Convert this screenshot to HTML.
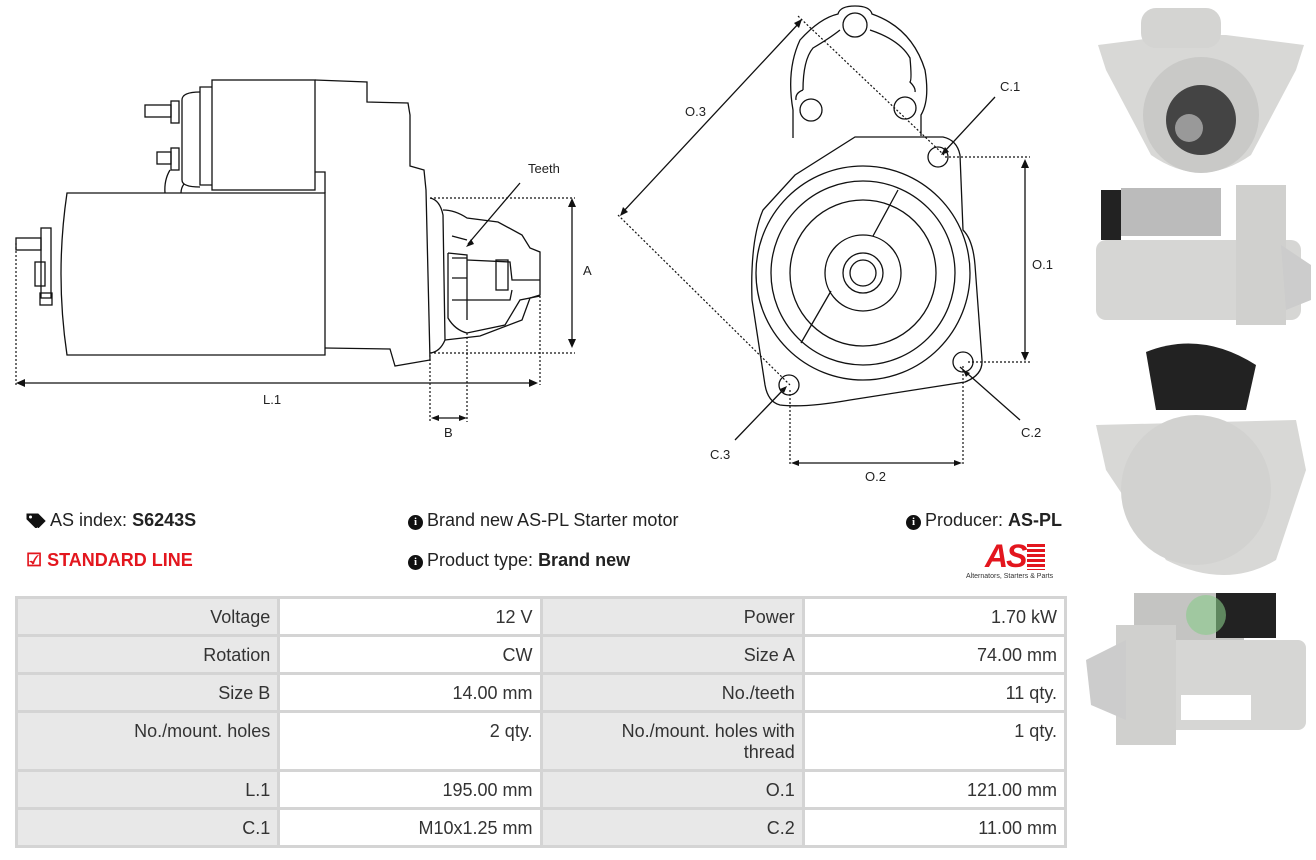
<!DOCTYPE html>
<html><head><meta charset="utf-8">
<style>
body{margin:0;width:1316px;height:860px;background:#fff;position:relative;overflow:hidden;font-family:"Liberation Sans",sans-serif;color:#222}
.t{position:absolute;font-size:18px;white-space:nowrap}
.i{display:inline-block;width:15px;height:15px;border-radius:50%;background:#111;color:#fff;font:bold 11px/15px "Liberation Serif",serif;text-align:center;vertical-align:1px;margin-right:4px}
table{position:absolute;left:15px;top:596px;width:1052px;table-layout:fixed;border-collapse:collapse;font-size:18px;color:#333}
td{border:3px solid #d4d4d4;text-align:right;vertical-align:top;padding:8px 7px 0 0;box-sizing:border-box;line-height:21px}
td.l{background:#e8e8e8}
</style></head><body>
<svg width="1316" height="590" style="position:absolute;left:0;top:0" fill="none" stroke="#111" stroke-width="1.3">
<path d="M67 193 L325 193 L325 355 L67 355 Q55 274 67 193Z"/>
<rect x="212" y="80" width="103" height="110"/>
<path d="M212 87 L200 87 L200 185 L212 185"/>
<path d="M200 92 Q182 92 182 100 L182 180 Q182 187 200 187"/>
<path d="M315 80 L367 82 L367 102 L408 103 L410 115 L410 166 L424 170 L426 190 L430 360 L395 366 L390 349 L325 348"/>
<path d="M315 172 L325 172 L325 193"/>
<path d="M170 170 Q164 180 165 193 M184 184 Q181 188 181 193"/>
<rect x="171" y="101" width="8" height="22"/><rect x="145" y="105" width="26" height="12"/>
<rect x="171" y="148" width="8" height="22"/><rect x="157" y="152" width="14" height="12"/>
<rect x="41" y="228" width="10" height="70"/><rect x="16" y="238" width="25" height="12"/>
<rect x="35" y="262" width="10" height="24"/><rect x="40" y="293" width="12" height="12"/>
<path d="M430 198 Q440 200 443 215 L445 340 Q440 352 430 353"/>
<path d="M443 210 Q455 210 467 218 L498 222 L522 235 L530 248 L540 252 L540 295 L530 298 L522 320 L480 336 L445 340"/>
<path d="M448 253 L448 318 Q455 330 467 333 L505 325 L520 300 L540 296 M448 253 L467 255 L467 320"/>
<path d="M467 260 L510 262 L512 280 L540 280 M467 300 L510 300 L512 290"/>
<rect x="496" y="260" width="12" height="30"/>
<path d="M452 236 L467 240 M452 258 L467 258 M452 278 L467 278 M452 300 L467 300"/>
<g stroke-dasharray="2 2" stroke-width="1.2">
<path d="M16 243 L16 385 M430 198 L575 198 M430 353 L575 353 M540 296 L540 385 M430 355 L430 422 M467 333 L467 422"/>
<path d="M790 390 L790 466 M963 366 L963 466 M945 157 L1030 157 M968 362 L1030 362"/>
<path d="M798 16 L944 155 M618 215 L790 385"/>
</g>
<path d="M20 383 L535 383 M572 200 L572 346 M434 418 L464 418 M1025 162 L1025 358 M794 463 L959 463 M622 213 L800 22"/>
<path d="M468 244 L520 183 M944 152 L995 97 M960 367 L1020 420 M783 390 L735 440"/>
<g fill="#111" stroke="none">
<path d="M16 383l9-4v8z M538 383l-9-4v8z M572 198l-4 9h8z M572 348l-4-9h8z M431 418l8-3v6z M467 418l-8-3v6z M1025 159l-4 9h8z M1025 361l-4-9h8z M791 463l8-3v6z M962 463l-8-3v6z M620 216l3-9 5 5z M802 19l-8 4 5 5z M466 247l8-3-3-5z M941 155l8-3-4-5z M963 370l3 7 4-4z M787 386l-7 3 4 4z"/>
</g>
<path d="M793 138 L793 110 Q786 70 800 40 Q820 18 838 14 Q840 6 855 6 Q870 6 872 14 Q912 28 925 70 Q930 100 921 115 L921 136"/>
<path d="M803 90 Q803 60 813 48 Q830 38 840 30 M870 30 Q900 40 910 58 Q912 80 910 82 Q916 88 915 92"/>
<path d="M803 90 Q795 93 796 100"/>
<path d="M855 137 L943 137 Q957 140 960 155 L963 230 Q973 240 975 265 L982 360 Q983 375 965 382 L850 400 Q805 408 780 405 Q768 402 765 385 L752 300 Q750 240 763 210 L795 175 Z"/>
<circle cx="863" cy="273" r="107"/><circle cx="863" cy="273" r="92"/><circle cx="863" cy="273" r="73"/>
<circle cx="863" cy="273" r="38"/><circle cx="863" cy="273" r="20"/><circle cx="863" cy="273" r="13"/>
<path d="M898 190 L873 236 M831 291 L801 343"/>
<circle cx="855" cy="25" r="12"/><circle cx="811" cy="110" r="11"/><circle cx="905" cy="108" r="11"/>
<circle cx="938" cy="157" r="10"/><circle cx="963" cy="362" r="10"/><circle cx="789" cy="385" r="10"/>
<g fill="#222" stroke="none" font-family="Liberation Sans" font-size="13">
<text x="528" y="173">Teeth</text><text x="583" y="275">A</text><text x="263" y="404">L.1</text><text x="444" y="437">B</text>
<text x="685" y="116">O.3</text><text x="1000" y="91">C.1</text><text x="1032" y="269">O.1</text><text x="1021" y="437">C.2</text><text x="710" y="459">C.3</text><text x="865" y="481">O.2</text>
</g>
</svg>
<svg width="230" height="780" style="position:absolute;left:1086px;top:0">
<path d="M12 45 L90 35 L140 35 L218 45 L210 70 L165 155 Q115 190 65 155 L20 70Z" fill="#d8d8d6"/>
<rect x="55" y="8" width="80" height="40" rx="15" fill="#d4d4d2"/>
<circle cx="115" cy="115" r="58" fill="#c9c9c7"/><circle cx="115" cy="120" r="35" fill="#444"/><circle cx="103" cy="128" r="14" fill="#999"/>
<rect x="15" y="190" width="20" height="50" fill="#222"/><rect x="35" y="188" width="100" height="48" fill="#bbb"/>
<rect x="10" y="240" width="205" height="80" rx="10" fill="#d6d6d4"/><rect x="150" y="185" width="50" height="140" fill="#d0d0ce"/><path d="M195 245 L225 265 L225 300 L200 310Z" fill="#ccc"/>
<path d="M60 352 Q115 330 170 365 L160 410 L70 410Z" fill="#222"/>
<path d="M10 425 L210 420 L220 470 L190 560 Q140 590 80 560 L20 470Z" fill="#d8d8d6"/>
<circle cx="110" cy="490" r="75" fill="#d2d2d0"/>
<rect x="48" y="593" width="110" height="50" fill="#c4c4c2"/><rect x="130" y="593" width="60" height="45" fill="#222"/>
<rect x="40" y="640" width="180" height="90" rx="8" fill="#d6d6d4"/><rect x="30" y="625" width="60" height="120" fill="#d0d0ce"/><path d="M0 660 L40 640 L40 720 L5 705Z" fill="#ccc"/>
<circle cx="120" cy="615" r="20" fill="#8c8" opacity=".6"/>
<rect x="95" y="695" width="70" height="25" fill="#fff"/>
</svg>
<div class="t" style="left:26px;top:510px"><svg width="20" height="16" style="vertical-align:-2px"><path d="M1 2 L8 2 L16 10 L10 16 L1 7Z M5 2 L12 2 L19 9 L12 16" fill="#111" stroke="#111"/><circle cx="4.5" cy="5" r="1.5" fill="#fff"/></svg> AS index: <b>S6243S</b></div>
<div class="t" style="left:26px;top:550px;color:#e3161e;font-weight:bold">&#9745; STANDARD LINE</div>
<div class="t" style="left:408px;top:510px"><span class="i">i</span>Brand new AS-PL Starter motor</div>
<div class="t" style="left:408px;top:550px"><span class="i">i</span>Product type: <b>Brand new</b></div>
<div class="t" style="left:906px;top:510px"><span class="i">i</span>Producer: <b>AS-PL</b></div>
<div style="position:absolute;left:985px;top:538px;color:#e3161e;font:italic bold 32px 'Liberation Sans',sans-serif;letter-spacing:-2px">AS<span style="display:inline-block;width:18px;height:26px;background:repeating-linear-gradient(#e3161e 0 3px,#fff 3px 5px);vertical-align:-3px;margin-left:2px"></span></div>
<div style="position:absolute;left:966px;top:573px;font-size:7px;color:#333">Alternators, Starters &amp; Parts</div>
<table>
<tr style="height:38px"><td class="l">Voltage</td><td>12 V</td><td class="l">Power</td><td>1.70 kW</td></tr>
<tr style="height:38px"><td class="l">Rotation</td><td>CW</td><td class="l">Size A</td><td>74.00 mm</td></tr>
<tr style="height:38px"><td class="l">Size B</td><td>14.00 mm</td><td class="l">No./teeth</td><td>11 qty.</td></tr>
<tr style="height:59px"><td class="l">No./mount. holes</td><td>2 qty.</td><td class="l">No./mount. holes with<br>thread</td><td>1 qty.</td></tr>
<tr style="height:38px"><td class="l">L.1</td><td>195.00 mm</td><td class="l">O.1</td><td>121.00 mm</td></tr>
<tr style="height:38px"><td class="l">C.1</td><td>M10x1.25 mm</td><td class="l">C.2</td><td>11.00 mm</td></tr>
</table>
</body></html>
